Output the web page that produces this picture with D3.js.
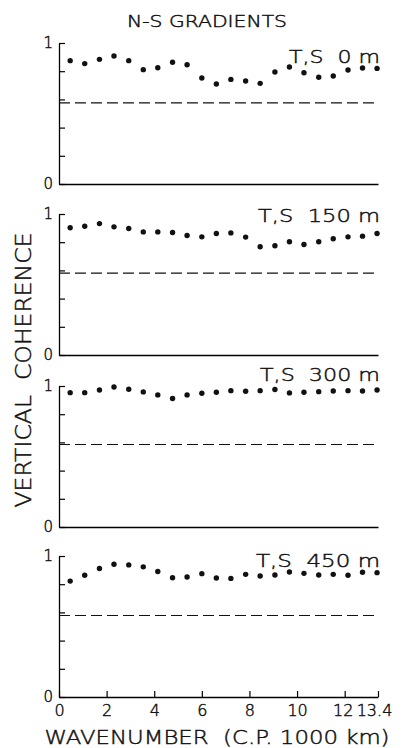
<!DOCTYPE html>
<html>
<head>
<meta charset="utf-8">
<script src="https://cdn.jsdelivr.net/npm/d3@7"></script>
<style>
  html, body { margin: 0; padding: 0; background: #fff; }
  svg { display: block; }
  text { font-family: "DejaVu Sans", sans-serif; font-weight: 300; fill: #111; stroke: #111; stroke-width: 0.45px; }
</style>
</head>
<body>
<svg id="chart" width="403" height="748"></svg>
<script>
// Wavenumber (cycles per 1000 km) of each spectral estimate
const wavenumber = [0.47, 1.08, 1.70, 2.31, 2.93, 3.54, 4.15, 4.77, 5.38, 6.00, 6.61,
                    7.22, 7.84, 8.45, 9.07, 9.68, 10.29, 10.91, 11.52, 12.14, 12.75, 13.36];

// Vertical coherence of the N-S gradients, one series per depth
const coh0   = [0.875, 0.854, 0.884, 0.908, 0.875, 0.811, 0.825, 0.863, 0.846, 0.752, 0.709,
                0.742, 0.730, 0.714, 0.794, 0.830, 0.789, 0.757, 0.766, 0.809, 0.823, 0.820];
const coh150 = [0.902, 0.913, 0.932, 0.909, 0.897, 0.873, 0.873, 0.869, 0.848, 0.838, 0.862,
                0.866, 0.836, 0.768, 0.775, 0.803, 0.784, 0.803, 0.824, 0.838, 0.843, 0.862];
const coh300 = [0.953, 0.953, 0.972, 0.993, 0.977, 0.958, 0.937, 0.911, 0.937, 0.949, 0.956,
                0.967, 0.963, 0.967, 0.975, 0.951, 0.956, 0.960, 0.965, 0.967, 0.965, 0.972];
const coh450 = [0.822, 0.863, 0.911, 0.942, 0.937, 0.923, 0.890, 0.846, 0.851, 0.875, 0.844,
                0.841, 0.870, 0.858, 0.865, 0.887, 0.877, 0.865, 0.870, 0.863, 0.885, 0.882];

// Significance level drawn as the dashed line in each panel
const significance = [0.575, 0.58, 0.585, 0.578];

const panelLabels = ["T,S  0 m", "T,S  150 m", "T,S  300 m", "T,S  450 m"];
const xTickValues = [0, 2, 4, 6, 8, 10, 12, 13.4];
const xTickLabels = ["0", "2", "4", "6", "8", "10", "12", "13.4"];
const yTickValues = [0, 0.2, 0.4, 0.6, 0.8, 1];
const yTickLabels = ["0", "", "", "", "", "1"];

const titleText = "N-S GRADIENTS";
const yTitle = "VERTICAL  COHERENCE";
const xTitle = "WAVENUMBER  (C.P. 1000 km)";

const series = [coh0, coh150, coh300, coh450];

// Layout
const left = 59, right = 378;
const panelTops = [43, 214, 386, 556];
const panelH = 141;
const labelOffsets = [20, 8, -5, 11];      // baseline of each depth label, from panel top
const labelWidths = [91, 122, 120, 124];   // rendered width of each depth label

const svg = d3.select("#chart");
const x = d3.scaleLinear().domain([0, 13.4]).range([left, right]);

function styleText(sel, size) {
  sel.attr("font-size", size)
    .attr("font-family", "DejaVu Sans, sans-serif")
    .attr("font-weight", 300)
    .attr("fill", "#111").attr("stroke", "#111").attr("stroke-width", 0.45);
}

svg.append("text")
  .attr("x", 207).attr("y", 27)
  .attr("text-anchor", "middle")
  .attr("font-size", 16)
  .attr("textLength", 160).attr("lengthAdjust", "spacingAndGlyphs")
  .text(titleText);

series.forEach((vals, i) => {
  const top = panelTops[i];
  const y = d3.scaleLinear().domain([0, 1]).range([top + panelH, top]);
  const g = svg.append("g");
  const last = i === series.length - 1;

  // left axis: inward ticks every 0.2, labels only at 0 and 1
  const yAxis = d3.axisLeft(y)
    .tickValues(yTickValues)
    .tickSizeInner(-6).tickSizeOuter(0).tickPadding(6)
    .tickFormat((d, k) => yTickLabels[k]);
  g.append("g").attr("transform", `translate(${left},0)`).call(yAxis)
    .call(a => a.select(".domain").attr("stroke-width", 1.3))
    .call(a => a.selectAll(".tick line").attr("stroke-width", 1.2))
    .call(a => a.selectAll(".tick text").call(styleText, 15));

  // bottom axis: ticks and labels only on the lowest panel
  const xAxis = d3.axisBottom(x)
    .tickValues(xTickValues)
    .tickSizeInner(last ? -6 : 0).tickSizeOuter(0).tickPadding(8)
    .tickFormat((d, k) => last ? xTickLabels[k] : "");
  g.append("g").attr("transform", `translate(0,${top + panelH})`).call(xAxis)
    .call(a => a.select(".domain").attr("stroke-width", 1.3))
    .call(a => a.selectAll(".tick line").attr("stroke-width", 1.2))
    .call(a => a.selectAll(".tick text").call(styleText, 16)
      .attr("dx", d => d === 13.4 ? -4 : (d === 12 ? -2 : 0)));

  // significance level
  g.append("line")
    .attr("x1", x(0)).attr("x2", x(13.4))
    .attr("y1", y(significance[i])).attr("y2", y(significance[i]))
    .attr("stroke", "#111").attr("stroke-width", 1.2)
    .attr("stroke-dasharray", "11,5");

  // coherence estimates
  g.selectAll("circle")
    .data(vals.map((v, k) => [wavenumber[k], v]))
    .join("circle")
    .attr("cx", d => x(d[0])).attr("cy", d => y(d[1]))
    .attr("r", 2.7).attr("fill", "#111");

  g.append("text")
    .attr("x", 380).attr("y", top + labelOffsets[i])
    .attr("text-anchor", "end")
    .attr("font-size", 18)
    .attr("textLength", labelWidths[i]).attr("lengthAdjust", "spacingAndGlyphs")
    .style("white-space", "pre")
    .text(panelLabels[i]);
});

svg.append("text")
  .attr("transform", "translate(31,370) rotate(-90)")
  .attr("text-anchor", "middle")
  .attr("font-size", 22)
  .attr("textLength", 275).attr("lengthAdjust", "spacingAndGlyphs")
  .style("white-space", "pre")
  .text(yTitle);

svg.append("text")
  .attr("x", 217).attr("y", 744)
  .attr("text-anchor", "middle")
  .attr("font-size", 19)
  .attr("textLength", 345).attr("lengthAdjust", "spacingAndGlyphs")
  .style("white-space", "pre")
  .text(xTitle);
</script>
</body>
</html>
